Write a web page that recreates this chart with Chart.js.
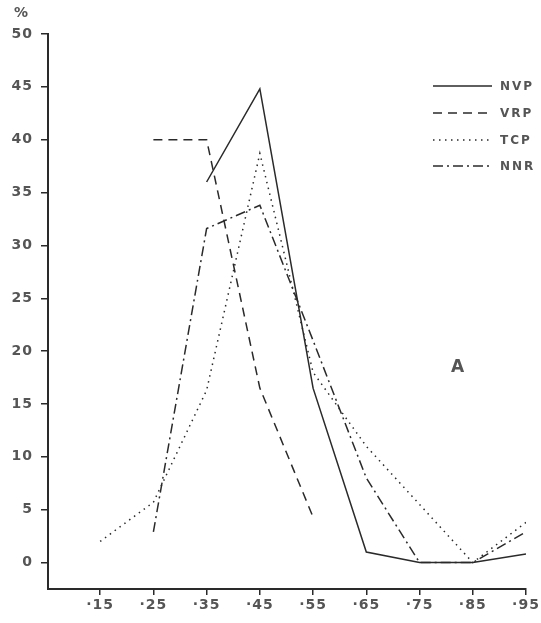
<!DOCTYPE html>
<html>
<head>
<meta charset="utf-8">
<script src="https://cdn.jsdelivr.net/npm/chart.js@4"></script>
<style>
  html, body { margin: 0; padding: 0; background: #fff; }
  #wrap { width: 541px; height: 623px; position: relative; }
</style>
</head>
<body>
<div id="wrap"><canvas id="distChart"></canvas></div>
<script>
// values (% per class)
var classes = [15, 25, 35, 45, 55, 65, 75, 85, 95];
var nvp = [null, null, 36, 44.8, 16.5, 1, 0, 0, 0.8];
var vrp = [null, 40, 40, 16.5, 4.3, null, null, null, null];
var tcp = [2, 5.7, 16.3, 38.7, 18, 11, 5.5, 0, 3.8];
var nnr = [null, 2.9, 31.6, 33.8, 21, 8, 0, 0, 2.9];
var yTicks = [0, 5, 10, 15, 20, 25, 30, 35, 40, 45, 50];

var ink = '#2a2a2a';
var labelInk = '#555';

function points(vals) {
    var out = [];
    for (var i = 0; i < classes.length; i++) {
        if (vals[i] !== null) out.push({x: classes[i], y: vals[i]});
    }
    return out;
}

function series(label, vals, dash) {
    return {
        label: label,
        data: points(vals),
        borderColor: ink,
        borderWidth: 1.5,
        borderDash: dash,
        pointRadius: 0,
        fill: false,
        tension: 0
    };
}

// a bit of letter spacing for the typewriter-like tick labels
var spacing = {
    id: 'spacing',
    beforeDraw: function(chart) { chart.ctx.letterSpacing = '1px'; }
};

// legend lines + labels, "%" and "A"
var extras = {
    id: 'extras',
    afterDraw: function(chart) {
        var ctx = chart.ctx;
        ctx.save();
        ctx.fillStyle = labelInk;
        ctx.font = 'bold 14px "DejaVu Sans"';
        ctx.textBaseline = 'middle';
        ctx.textAlign = 'left';
        ctx.fillText('%', 14, 13);
        ctx.font = 'bold 17px "DejaVu Sans"';
        ctx.fillText('A', 451, 368);

        var rowY = [86, 113, 140, 166];
        chart.data.datasets.forEach(function(ds, i) {
            var y = rowY[i];
            ctx.strokeStyle = ink;
            ctx.lineWidth = 1.5;
            ctx.setLineDash(ds.borderDash || []);
            ctx.beginPath();
            ctx.moveTo(433, y);
            ctx.lineTo(492, y);
            ctx.stroke();
            ctx.setLineDash([]);
            ctx.fillStyle = labelInk;
            ctx.font = 'bold 12px "DejaVu Sans"';
            ctx.letterSpacing = '2px';
            ctx.fillText(ds.label, 500, y + 1);
        });
        ctx.restore();
    }
};

var chartCanvas = document.getElementById('distChart');
var distChart = new Chart(chartCanvas, {
    type: 'line',
    data: {
        datasets: [
            series('NVP', nvp, []),
            series('VRP', vrp, [9, 6]),
            series('TCP', tcp, [1.5, 4.5]),
            series('NNR', nnr, [10, 4, 2, 4])
        ]
    },
    options: {
        responsive: true,
        maintainAspectRatio: false,
        animation: false,
        layout: {
            padding: {top: 34, right: 15, left: 0, bottom: 0}
        },
        plugins: {
            legend: {display: false},
            tooltip: {enabled: false}
        },
        scales: {
            x: {
                type: 'linear',
                min: 5.2,
                max: 95,
                afterBuildTicks: function(scale) {
                    scale.ticks = classes.map(function(v) { return {value: v}; });
                },
                afterFit: function(scale) { scale.height = 34; },
                grid: {drawOnChartArea: false, drawTicks: true, tickLength: 6, color: ink, lineWidth: 1.5},
                border: {display: true, color: ink, width: 2},
                ticks: {
                    color: labelInk,
                    font: {family: 'DejaVu Sans', size: 14, weight: 'bold'},
                    padding: 2,
                    maxRotation: 0,
                    autoSkip: false,
                    callback: function(v) { return '\u00B7' + v; }
                }
            },
            y: {
                min: -2.5,
                max: 50,
                afterBuildTicks: function(scale) {
                    scale.ticks = yTicks.map(function(v) { return {value: v}; });
                },
                afterFit: function(scale) { scale.width = 48; },
                grid: {drawOnChartArea: false, drawTicks: true, tickLength: 7, color: ink, lineWidth: 1.5},
                border: {display: true, color: ink, width: 2},
                ticks: {
                    color: labelInk,
                    font: {family: 'DejaVu Sans', size: 14, weight: 'bold'},
                    padding: 8,
                    autoSkip: false
                }
            }
        }
    },
    plugins: [spacing, extras]
});
</script>
</body>
</html>
